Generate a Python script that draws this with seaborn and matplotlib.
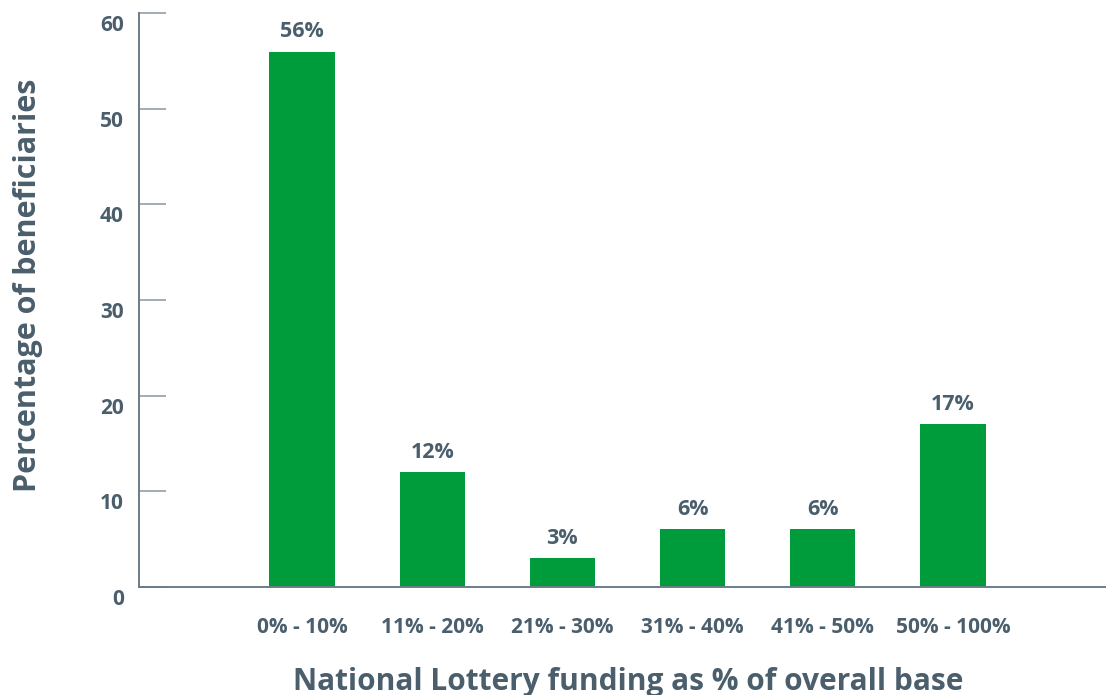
import matplotlib
matplotlib.use("Agg")
import matplotlib.pyplot as plt
import matplotlib.transforms as mtransforms
import seaborn as sns
import pandas as pd

# Share of beneficiaries by National Lottery funding band
categories = ["0% - 10%", "11% - 20%", "21% - 30%", "31% - 40%", "41% - 50%", "50% - 100%"]
values = [56, 12, 3, 6, 6, 17]
value_labels = ["56%", "12%", "3%", "6%", "6%", "17%"]
y_ticks = [0, 10, 20, 30, 40, 50, 60]

GREEN = "#009b3a"
TEXT = "#4a5e6c"
AXIS = "#6b7c88"
TICK = "#9aa6ae"

sns.set_theme(style="white")
plt.rcParams["font.family"] = ["Open Sans", "DejaVu Sans"]

df = pd.DataFrame({"band": categories, "share": values})

fig = plt.figure(figsize=(11.07, 6.95), dpi=100)
ax = fig.add_axes([139 / 1107, 1 - 586.7 / 695, (1105 - 139) / 1107, (586.7 - 13.3) / 695])

sns.barplot(data=df, x="band", y="share", color=GREEN, width=0.5,
            saturation=1, ax=ax, edgecolor="none")

ax.set_xlim(-1.252, 6.167)
ax.set_ylim(0, 60)
ax.set_yticks(y_ticks)
ax.set_yticklabels([str(t) for t in y_ticks])

for s in ("top", "right"):
    ax.spines[s].set_visible(False)
for s in ("left", "bottom"):
    ax.spines[s].set_color(AXIS)
    ax.spines[s].set_linewidth(1.4)

ax.tick_params(axis="y", left=True, direction="in", length=19.5, width=1.3, color=TICK,
               pad=11, labelsize=15, labelcolor=TEXT)
ax.tick_params(axis="x", bottom=False, length=0, pad=22, labelsize=15, labelcolor=TEXT)
for lab in ax.get_yticklabels() + ax.get_xticklabels():
    lab.set_fontweight("bold")

# y tick labels sit slightly below their tick marks
shift = mtransforms.ScaledTranslation(0, -10 / 100, fig.dpi_scale_trans)
for lab in ax.get_yticklabels():
    lab.set_transform(lab.get_transform() + shift)

# value labels above each bar
for i, (v, txt) in enumerate(zip(values, value_labels)):
    ax.annotate(txt, (i, v), xytext=(0, 6.5), textcoords="offset points",
                ha="center", va="bottom", fontsize=15.5, fontweight="bold", color=TEXT)

ax.set_xlabel("National Lottery funding as % of overall base", fontsize=21.5,
              fontweight="bold", color=TEXT)
ax.set_ylabel("Percentage of beneficiaries", fontsize=22,
              fontweight="bold", color=TEXT)
ax.xaxis.label.set_va("center")
ax.xaxis.set_label_coords(0.506, -0.166)
ax.yaxis.set_label_coords(-0.099, 0.526)

fig.savefig("out.png", dpi=100)
